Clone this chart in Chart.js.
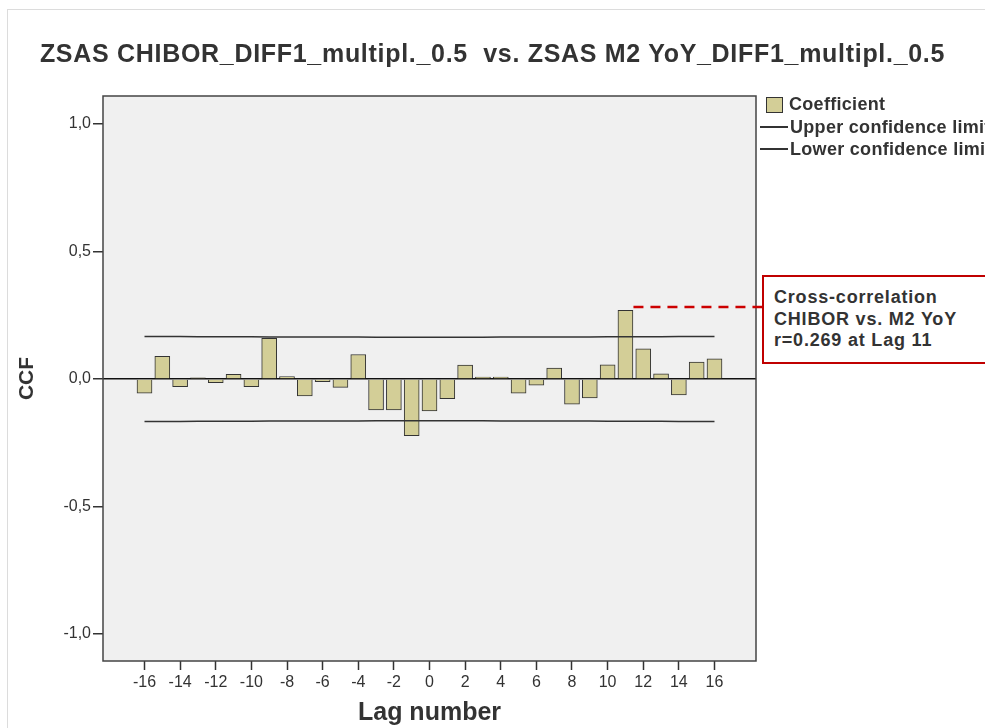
<!DOCTYPE html>
<html>
<head>
<meta charset="utf-8">
<script src="https://cdn.jsdelivr.net/npm/chart.js@4"></script>
<style>
  html, body { margin:0; padding:0; background:#fff; }
  body { width:985px; height:728px; position:relative; overflow:hidden; font-family:"Liberation Sans", Arial, sans-serif; color:#333; }
  #frame { position:absolute; left:7px; top:9px; width:1000px; height:800px; border-left:1px solid #dcdcdc; border-top:1px solid #dcdcdc; }
  #wrap { position:absolute; left:0; top:0; width:985px; height:728px; }
  #title { position:absolute; left:0; width:985px; top:39px; text-align:center; font-weight:bold; font-size:25px; letter-spacing:0.7px; white-space:pre; }
  #legend { position:absolute; left:760px; top:93px; font-weight:bold; font-size:18px; letter-spacing:0.3px; line-height:22.5px; white-space:nowrap; }
  #legend .sw { display:inline-block; width:15px; height:14px; background:#d3ce97; border:1px solid #333; vertical-align:-3px; margin:0 6px 0 6px; }
  #legend .ln { display:inline-block; width:28px; border-top:2px solid #333; vertical-align:5px; margin-right:2px; }
  #note { position:absolute; left:762px; top:275px; width:240px; height:89px; border:2px solid #c00000; background:#fff; font-weight:bold; font-size:18px; letter-spacing:0.8px; line-height:21.5px; padding:10px 0 0 10px; box-sizing:border-box; white-space:nowrap; }
</style>
</head>
<body>
<div id="frame"></div>
<div id="wrap"><canvas id="c" width="985" height="728"></canvas></div>
<div id="title">ZSAS CHIBOR_DIFF1_multipl._0.5  vs. ZSAS M2 YoY_DIFF1_multipl._0.5</div>
<div id="legend">
  <div><span class="sw"></span>Coefficient</div>
  <div><span class="ln"></span>Upper confidence limit</div>
  <div><span class="ln"></span>Lower confidence limit</div>
</div>
<div id="note">Cross-correlation<br>CHIBOR vs. M2 YoY<br>r=0.269 at Lag 11</div>
<script>
// lags and cross-correlation values
const lags = [-16,-15,-14,-13,-12,-11,-10,-9,-8,-7,-6,-5,-4,-3,-2,-1,0,1,2,3,4,5,6,7,8,9,10,11,12,13,14,15,16];
const coef = [-0.056,0.089,-0.030,0.005,-0.014,0.018,-0.030,0.160,0.010,-0.066,-0.010,-0.033,0.096,-0.121,-0.121,-0.222,-0.125,-0.077,0.055,0.008,0.008,-0.056,-0.024,0.043,-0.099,-0.074,0.056,0.269,0.118,0.020,-0.062,0.066,0.079];
const upper = [0.167,0.167,0.167,0.166,0.166,0.166,0.166,0.165,0.165,0.165,0.165,0.165,0.165,0.164,0.164,0.164,0.164,0.164,0.164,0.164,0.165,0.165,0.165,0.165,0.165,0.165,0.166,0.166,0.166,0.166,0.167,0.167,0.167];
const lower = upper.map(v => -v);
const xTicks = [-16,-14,-12,-10,-8,-6,-4,-2,0,2,4,6,8,10,12,14,16];
const yTicks = [-1,-0.5,0,0.5,1];
const peakLag = 11, peakMarker = 0.282;

const plotFrame = {
  id: 'plotFrame',
  beforeDraw(chart) {
    const a = chart.chartArea, c = chart.ctx;
    c.save();
    c.fillStyle = '#f0f0f0';
    c.fillRect(a.left, a.top, a.right - a.left, a.bottom - a.top);
    c.restore();
  },
  afterDraw(chart) {
    const a = chart.chartArea, c = chart.ctx;
    c.save();
    c.strokeStyle = '#444'; c.lineWidth = 1.5;
    c.strokeRect(a.left, a.top, a.right - a.left, a.bottom - a.top);
    // dashed pointer from the peak bar to the note box
    const x0 = chart.scales.x.getPixelForValue(peakLag + 0.45);
    const y0 = chart.scales.y.getPixelForValue(peakMarker);
    c.strokeStyle = '#cc0000'; c.lineWidth = 2.5; c.setLineDash([10, 7]);
    c.beginPath(); c.moveTo(x0, y0); c.lineTo(762, y0); c.stroke();
    c.restore();
  }
};

new Chart(document.getElementById('c').getContext('2d'), {
  data: {
    datasets: [
      { type:'bar', label:'Coefficient', data: lags.map((l,i)=>({x:l, y:coef[i]})), backgroundColor:'#d3ce97', borderColor:'#333', borderWidth:1, barThickness:15, order:2 },
      { type:'line', label:'Upper confidence limit', data: lags.map((l,i)=>({x:l, y:upper[i]})), borderColor:'#333', borderWidth:1.5, pointRadius:0, fill:false, order:1 },
      { type:'line', label:'Lower confidence limit', data: lags.map((l,i)=>({x:l, y:lower[i]})), borderColor:'#333', borderWidth:1.5, pointRadius:0, fill:false, order:1 }
    ]
  },
  options: {
    responsive:false, animation:false,
    layout: { padding: { top:96, right:229, left:0, bottom:0 } },
    plugins: { legend:{display:false}, tooltip:{enabled:false}, title:{display:false} },
    scales: {
      x: {
        type:'linear', min:-18.33, max:18.33, offset:false,
        afterFit(s) { s.height = 67; },
        afterBuildTicks(s) { s.ticks = xTicks.map(v => ({value:v})); },
        grid: { offset:false, drawOnChartArea:false, tickLength:9, tickColor:'#333', tickWidth:1.5 },
        border: { display:false },
        ticks: { color:'#333', font:{ family:'Liberation Sans', size:16 }, padding:3, maxRotation:0, autoSkip:false },
        title: { display:true, text:'Lag number', color:'#333', font:{ family:'Liberation Sans', size:25, weight:'bold' }, padding:{ top:4, bottom:0 } }
      },
      y: {
        min:-1.106, max:1.11,
        afterFit(s) { s.width = 103; },
        afterBuildTicks(s) { s.ticks = yTicks.map(v => ({value:v})); },
        grid: { drawOnChartArea:true, color: c => c.tick && c.tick.value === 0 ? '#111' : 'rgba(0,0,0,0)', lineWidth:1.5, tickLength:10, tickColor:'#333', tickWidth:1.5 },
        border: { display:false },
        ticks: { color:'#333', font:{ family:'Liberation Sans', size:16 }, padding:2, callback: v => v.toFixed(1).replace('.', ',') },
        title: { display:true, text:'CCF', color:'#333', font:{ family:'Liberation Sans', size:21, weight:'bold' }, padding:{ top:15 } }
      }
    }
  },
  plugins: [plotFrame]
});
</script>
</body>
</html>
